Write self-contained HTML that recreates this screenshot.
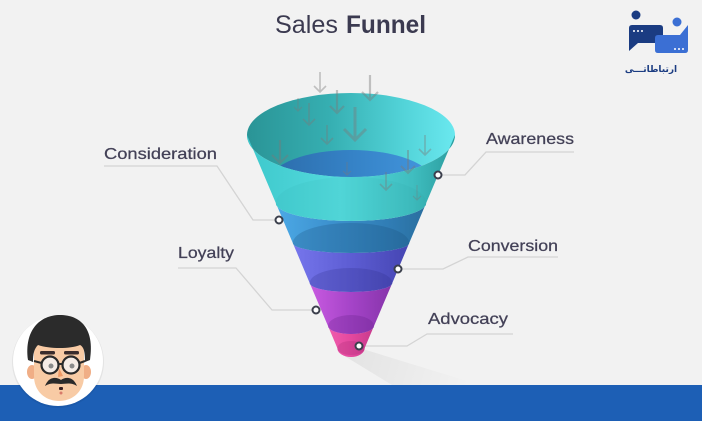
<!DOCTYPE html>
<html><head><meta charset="utf-8"><style>
html,body{margin:0;padding:0;background:#f2f2f2;}
svg{display:block;}
</style></head><body>
<svg width="702" height="421" viewBox="0 0 702 421" xmlns="http://www.w3.org/2000/svg">
<defs>
<linearGradient id="gBack" gradientUnits="userSpaceOnUse" x1="247" y1="0" x2="455" y2="0">
<stop offset="0" stop-color="#2a9496"/><stop offset="0.4" stop-color="#36afb2"/><stop offset="0.75" stop-color="#52d3d8"/><stop offset="1" stop-color="#6ae8ef"/></linearGradient>
<linearGradient id="gInner" gradientUnits="userSpaceOnUse" x1="270" y1="0" x2="432" y2="0">
<stop offset="0" stop-color="#2c6cab"/><stop offset="0.5" stop-color="#3582c6"/><stop offset="1" stop-color="#4396de"/></linearGradient>
<linearGradient id="gTeal" gradientUnits="userSpaceOnUse" x1="247" y1="0" x2="455" y2="0">
<stop offset="0" stop-color="#3ec8cc"/><stop offset="0.45" stop-color="#54dbdd"/><stop offset="0.8" stop-color="#3fbdbf"/><stop offset="1" stop-color="#2b9c9e"/></linearGradient>
<linearGradient id="gBlue" gradientUnits="userSpaceOnUse" x1="276" y1="0" x2="426" y2="0">
<stop offset="0" stop-color="#4ca9e6"/><stop offset="0.35" stop-color="#3d92cf"/><stop offset="0.75" stop-color="#307db5"/><stop offset="1" stop-color="#2a6f9f"/></linearGradient>
<linearGradient id="gPurp" gradientUnits="userSpaceOnUse" x1="293" y1="0" x2="409" y2="0">
<stop offset="0" stop-color="#7676ec"/><stop offset="0.5" stop-color="#5d5dd3"/><stop offset="1" stop-color="#4545b2"/></linearGradient>
<linearGradient id="gMag" gradientUnits="userSpaceOnUse" x1="310" y1="0" x2="392" y2="0">
<stop offset="0" stop-color="#c85ae0"/><stop offset="0.5" stop-color="#a544c8"/><stop offset="1" stop-color="#8634aa"/></linearGradient>
<linearGradient id="gPink" gradientUnits="userSpaceOnUse" x1="328" y1="0" x2="374" y2="0">
<stop offset="0" stop-color="#f05cad"/><stop offset="0.5" stop-color="#e4489e"/><stop offset="1" stop-color="#c73a8c"/></linearGradient>
<linearGradient id="gShadow" gradientUnits="userSpaceOnUse" x1="350" y1="350" x2="470" y2="385">
<stop offset="0" stop-color="#000" stop-opacity="0.06"/><stop offset="1" stop-color="#000" stop-opacity="0"/></linearGradient>
<clipPath id="cTop"><ellipse cx="351" cy="135" rx="104" ry="42"/></clipPath>
<clipPath id="c1"><path d="M247,135 L275.8,203 A75.2,18 0 0 0 426.2,203 L455,135 A104,42 0 0 1 247,135 Z"/></clipPath>
<clipPath id="c2"><path d="M275.8,203 L292.8,243 A58.2,10 0 0 0 409.2,243 L426.2,203 A75.2,18 0 0 1 275.8,203 Z"/></clipPath>
<clipPath id="c3"><path d="M292.8,243 L309.7,283 A41.3,9 0 0 0 392.3,283 L409.2,243 A58.2,10 0 0 1 292.8,243 Z"/></clipPath>
<clipPath id="c4"><path d="M309.7,283 L328,326 A23,8 0 0 0 374,326 L392.3,283 A41.3,9 0 0 1 309.7,283 Z"/></clipPath>
<clipPath id="c5"><path d="M328,326 L337.3,348 A13.7,9 0 0 0 364.7,348 L374,326 A23,8 0 0 1 328,326 Z"/></clipPath>
</defs>

<rect x="0" y="0" width="702" height="421" fill="#f2f2f2"/>

<!-- title -->
<text x="275" y="33" font-family="Liberation Sans, sans-serif" font-size="25" fill="#3b3a50" textLength="63" lengthAdjust="spacingAndGlyphs">Sales</text>
<text x="346" y="33" font-family="Liberation Sans, sans-serif" font-size="25" font-weight="bold" fill="#3b3a50" textLength="80" lengthAdjust="spacingAndGlyphs">Funnel</text>

<!-- funnel shadow -->
<polygon points="338,352 366,350 480,385 392,385" fill="url(#gShadow)"/>

<!-- connectors -->
<g fill="none" stroke="#d4d4d4" stroke-width="1.3">
<polyline points="104,166 217,166 253,220 279,220"/>
<polyline points="178,268 236,268 272,310 316,310"/>
<polyline points="574,152 486,152 465,175 438,175"/>
<polyline points="558,257 468,257 443,269 398,269"/>
<polyline points="513,334 427,334 407,346 359,346"/>
</g>

<!-- funnel bands -->
<path d="M328,326 L337.3,348 A13.7,9 0 0 0 364.7,348 L374,326 A23,8 0 0 1 328,326 Z" fill="url(#gPink)"/>
<path d="M309.7,283 L328,326 A23,8 0 0 0 374,326 L392.3,283 A41.3,9 0 0 1 309.7,283 Z" fill="url(#gMag)"/>
<path d="M292.8,243 L309.7,283 A41.3,9 0 0 0 392.3,283 L409.2,243 A58.2,10 0 0 1 292.8,243 Z" fill="url(#gPurp)"/>
<path d="M275.8,203 L292.8,243 A58.2,10 0 0 0 409.2,243 L426.2,203 A75.2,18 0 0 1 275.8,203 Z" fill="url(#gBlue)"/>
<!-- inner top faces -->
<g clip-path="url(#c5)"><ellipse cx="351" cy="348" rx="13.7" ry="7" fill="#a02670" opacity="0.25"/></g>
<g clip-path="url(#c4)"><ellipse cx="351" cy="326" rx="23" ry="11" fill="#5a1a80" opacity="0.25"/></g>
<g clip-path="url(#c3)"><ellipse cx="351" cy="283" rx="41.3" ry="15" fill="#2a2a80" opacity="0.22"/></g>
<g clip-path="url(#c2)"><ellipse cx="351" cy="243" rx="58.2" ry="20" fill="#184d78" opacity="0.25"/></g>

<!-- top interior -->
<ellipse cx="351" cy="135" rx="104" ry="42" fill="url(#gBack)"/>
<g clip-path="url(#cTop)"><ellipse cx="351" cy="182" rx="82" ry="32" fill="url(#gInner)"/></g>
<!-- teal front band -->
<path d="M247,135 L275.8,203 A75.2,18 0 0 0 426.2,203 L455,135 A104,42 0 0 1 247,135 Z" fill="url(#gTeal)"/>
<g clip-path="url(#c1)"><ellipse cx="351" cy="203" rx="75.2" ry="26" fill="#1f8a8c" opacity="0.07"/></g>

<!-- arrows -->
<g fill="none" stroke="#7a7a7a" stroke-opacity="0.42" stroke-linecap="butt">
<path d="M320,72 L320,92 M314,86 L320,92 L326,86" stroke-width="1.6"/>
<path d="M370,75 L370,100 M362,92 L370,100 L378,92" stroke-width="2.2"/>
<path d="M298,98 L298,111 M294,107 L298,111 L302,107" stroke-width="1.2"/>
<path d="M309,103 L309,125 M303,119 L309,125 L315,119" stroke-width="1.6"/>
<path d="M337,90 L337,113 M330,106 L337,113 L344,106" stroke-width="2.2"/>
<path d="M355,107 L355,140 M344,129 L355,140 L366,129" stroke-width="3"/>
<path d="M327,125 L327,144 M321,138 L327,144 L333,138" stroke-width="1.6"/>
<path d="M280,140 L280,163 M272,155 L280,163 L288,155" stroke-width="2.2"/>
<path d="M425,135 L425,155 M419,149 L425,155 L431,149" stroke-width="1.6"/>
<path d="M347,162 L347,175 M343,171 L347,175 L351,171" stroke-width="1.2"/>
<path d="M408,150 L408,173 M401,166 L408,173 L415,166" stroke-width="2"/>
<path d="M386,172 L386,190 M380,184 L386,190 L392,184" stroke-width="1.6"/>
<path d="M417,185 L417,200 M413,196 L417,200 L421,196" stroke-width="1"/>
</g>

<!-- dots -->
<g fill="#ffffff" stroke="#3b3f4c" stroke-width="2">
<circle cx="279" cy="220" r="3.5"/>
<circle cx="316" cy="310" r="3.5"/>
<circle cx="438" cy="175" r="3.5"/>
<circle cx="398" cy="269" r="3.5"/>
<circle cx="359" cy="346" r="3.5"/>
</g>

<!-- labels -->
<g font-family="Liberation Sans, sans-serif" font-size="16" fill="#434157" stroke="#434157" stroke-width="0.25">
<text x="104" y="159" textLength="113" lengthAdjust="spacingAndGlyphs">Consideration</text>
<text x="178" y="258" textLength="56" lengthAdjust="spacingAndGlyphs">Loyalty</text>
<text x="486" y="144" textLength="88" lengthAdjust="spacingAndGlyphs">Awareness</text>
<text x="468" y="251" textLength="90" lengthAdjust="spacingAndGlyphs">Conversion</text>
<text x="428" y="324" textLength="80" lengthAdjust="spacingAndGlyphs">Advocacy</text>
</g>

<!-- logo -->
<circle cx="636" cy="15" r="4.5" fill="#1b3c82"/>
<circle cx="677" cy="22" r="4.5" fill="#3b6fd4"/>
<path d="M632,25 L660,25 Q663,25 663,28 L663,40 Q663,43 660,43 L638,43 L629,51 L629,28 Q629,25 632,25 Z" fill="#1b3c82"/>
<path d="M658,35 L680,35 L688,25 L688,50 Q688,53 685,53 L658,53 Q655,53 655,50 L655,38 Q655,35 658,35 Z" fill="#3b6fd4"/>
<g fill="#ffffff">
<circle cx="634" cy="31" r="1"/><circle cx="638" cy="31" r="1"/><circle cx="642" cy="31" r="1"/>
<circle cx="675" cy="49" r="1"/><circle cx="679" cy="49" r="1"/><circle cx="683" cy="49" r="1"/>
</g>
<text x="651" y="72" text-anchor="middle" font-family="DejaVu Sans, sans-serif" font-size="9" font-weight="bold" fill="#1b3c82">ارتباطاتـــی</text>

<!-- bottom bar -->
<rect x="0" y="385" width="702" height="36" fill="#1d5fb5"/>

<!-- avatar -->
<circle cx="58" cy="362" r="46" fill="#000" opacity="0.06"/>
<circle cx="58" cy="361" r="45" fill="#ffffff"/>
<ellipse cx="32" cy="372" rx="5" ry="7" fill="#f0ae86"/>
<ellipse cx="86" cy="372" rx="5" ry="7" fill="#f0ae86"/>
<path d="M34,352 C34,340 46,338 59,338 C72,338 84,340 84,352 L84,376 C84,392 72,401 59,401 C46,401 34,392 34,376 Z" fill="#f8cba5"/>
<path d="M28,360 C24,330 40,315 60,315 C80,315 95,328 90,360 L85,362 C85,352 84,347 80,345 C70,349 50,349 38,345 C34,349 33,354 33,362 Z" fill="#2b2b2b"/>
<rect x="40" y="351" width="15" height="3.5" rx="1.5" fill="#3a2c2c"/>
<rect x="64" y="351" width="15" height="3.5" rx="1.5" fill="#3a2c2c"/>
<g stroke="#2a2a2a" stroke-width="2.2" fill="#f5ece6">
<circle cx="50" cy="365" r="8.5"/>
<circle cx="71" cy="365" r="8.5"/>
</g>
<path d="M58.5,364 L62.5,364 M41.5,363 L34,361 M79.5,363 L85,361" stroke="#2a2a2a" stroke-width="2"/>
<circle cx="51" cy="366" r="2.5" fill="#8a8a8a"/>
<circle cx="72" cy="366" r="2.5" fill="#8a8a8a"/>
<path d="M59,368 L63,376 L58,377 Z" fill="#ef9a66"/>
<path d="M45,386 C49,376 57,377 61,380 C65,377 73,376 77,386 C71,382 65,384 61,384 C57,384 51,382 45,386 Z" fill="#2a2a2a"/>
<rect x="59" y="387" width="4" height="3" rx="1" fill="#3a2020"/>
<circle cx="61" cy="393" r="1.5" fill="#d87a6a"/>
</svg>
</body></html>
